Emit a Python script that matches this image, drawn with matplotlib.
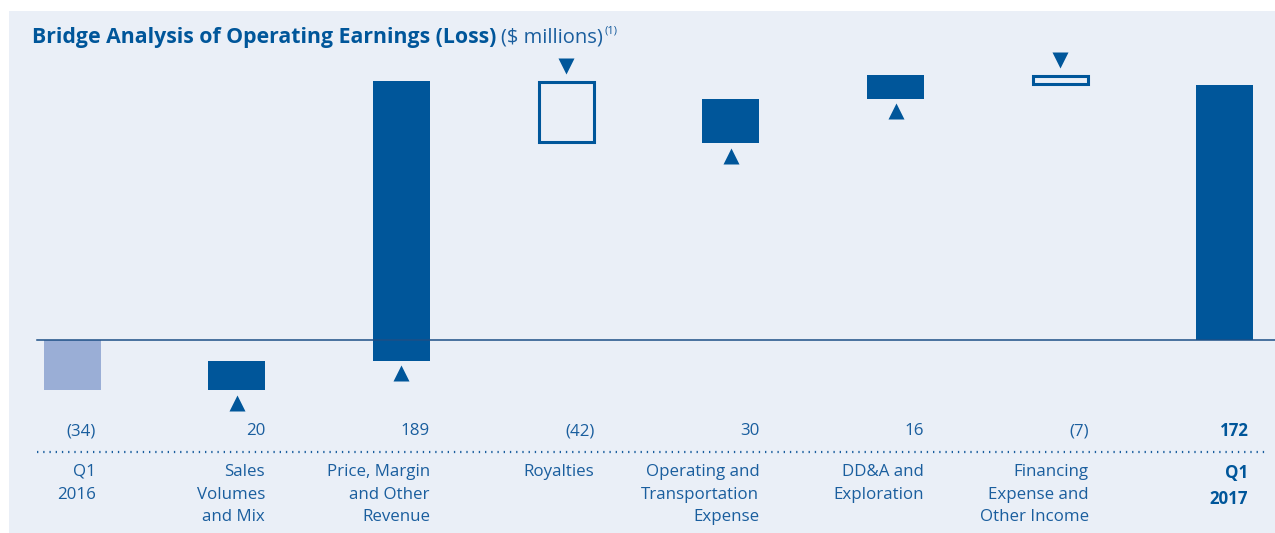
import matplotlib.pyplot as plt
from matplotlib.patches import Rectangle
from matplotlib.transforms import blended_transform_factory

# data
categories = ['Q1\n2016', 'Sales\nVolumes\nand Mix', 'Price, Margin\nand Other\nRevenue',
              'Royalties', 'Operating and\nTransportation\nExpense', 'DD&A and\nExploration',
              'Financing\nExpense and\nOther Income', 'Q1\n2017']
changes = [-34, 20, 189, -42, 30, 16, -7, 172]
value_labels = ['(34)', '20', '189', '(42)', '30', '16', '(7)', '172']

DARK = '#00569a'
LIGHT = '#9aaed6'
TEXT = '#1a5e9e'
BG = '#eaeff7'
FONT = 'Open Sans'

W, H = 1275, 533
fig = plt.figure(figsize=(W / 100, H / 100), dpi=100)
fig.patch.set_facecolor('white')

ax = fig.add_axes([0, 0, 1, 1])
ax.set_facecolor('none')
ax.add_patch(Rectangle((9 / W, 0), 1 - 9 / W, 1 - 11 / H, transform=fig.transFigure,
                       facecolor=BG, edgecolor='none', zorder=0))
step = 164.7
x0 = 72
ax.set_xlim(-x0 / step, (W - x0) / step)
ppu = 1.48
zero_from_bottom = H - 340
ax.set_ylim(-zero_from_bottom / ppu, (H - zero_from_bottom) / ppu)
ax.axis('off')

bw = 57 / step
running = 0
for i, v in enumerate(changes):
    last = i == len(changes) - 1
    if i == 0 or last:
        color = LIGHT if i == 0 else DARK
        ax.bar(i, v, width=bw, color=color, zorder=3)
        running = v
        continue
    start = running
    running += v
    lo, hi = min(start, running), max(start, running)
    if v > 0:
        ax.bar(i, hi - lo, bottom=lo, width=bw, color=DARK, zorder=3)
        ax.plot(i, lo - 8.5, marker='^', markersize=11, color=DARK, mec='none', zorder=3)
    else:
        ax.bar(i, hi - lo - 2 / ppu, bottom=lo + 1 / ppu, width=bw - 2 / step,
               facecolor='none', edgecolor=DARK, linewidth=2.2, zorder=3)
        ax.plot(i, hi + 10, marker='v', markersize=11, color=DARK, mec='none', zorder=3)

# zero line
ax.plot([-35 / step, (W - x0) / step], [0, 0], color='#1d4f86', linewidth=1.1, zorder=4)

tr = blended_transform_factory(ax.transData, fig.transFigure)
n = len(changes)
for i, (lab, cat) in enumerate(zip(value_labels, categories)):
    bold = i == n - 1
    shift = 5 if i in (0, n - 1) else 0
    xr = i + bw / 2 - shift / step
    ax.text(xr, 1 - 431 / H, lab, transform=tr, ha='right', va='center',
            fontsize=12.2, color=DARK if bold else TEXT, family=FONT,
            fontweight='bold' if bold else 'normal')
    ax.text(xr, 1 - 464 / H, cat, transform=tr, ha='right', va='top',
            fontsize=12.2, color=DARK if bold else TEXT, family=FONT, linespacing=1.55,
            fontweight='bold' if bold else 'normal')

# dotted separator
ax.plot([-35 / step, (1266 - x0) / step], [1 - 452 / H] * 2, transform=tr,
        color=TEXT, linewidth=1.6, linestyle=(0, (0.6, 2.2)), dash_capstyle='butt')

t = fig.text(32 / W, 1 - 37 / H, 'Bridge Analysis of Operating Earnings (Loss)', ha='left',
             va='center', fontsize=15.3, fontweight='bold', color=DARK, family=FONT)
fig.canvas.draw()
bb = t.get_window_extent()
t2 = fig.text((bb.x1 + 5) / W, 1 - 37 / H, '($ millions)', ha='left', va='center',
              fontsize=14.5, color=TEXT, family=FONT)
bb2 = t2.get_window_extent()
fig.text((bb2.x1 + 1) / W, 1 - 31 / H, '(1)', ha='left', va='center',
         fontsize=8, color=TEXT, family=FONT)

fig.savefig('out.png', dpi=100)
